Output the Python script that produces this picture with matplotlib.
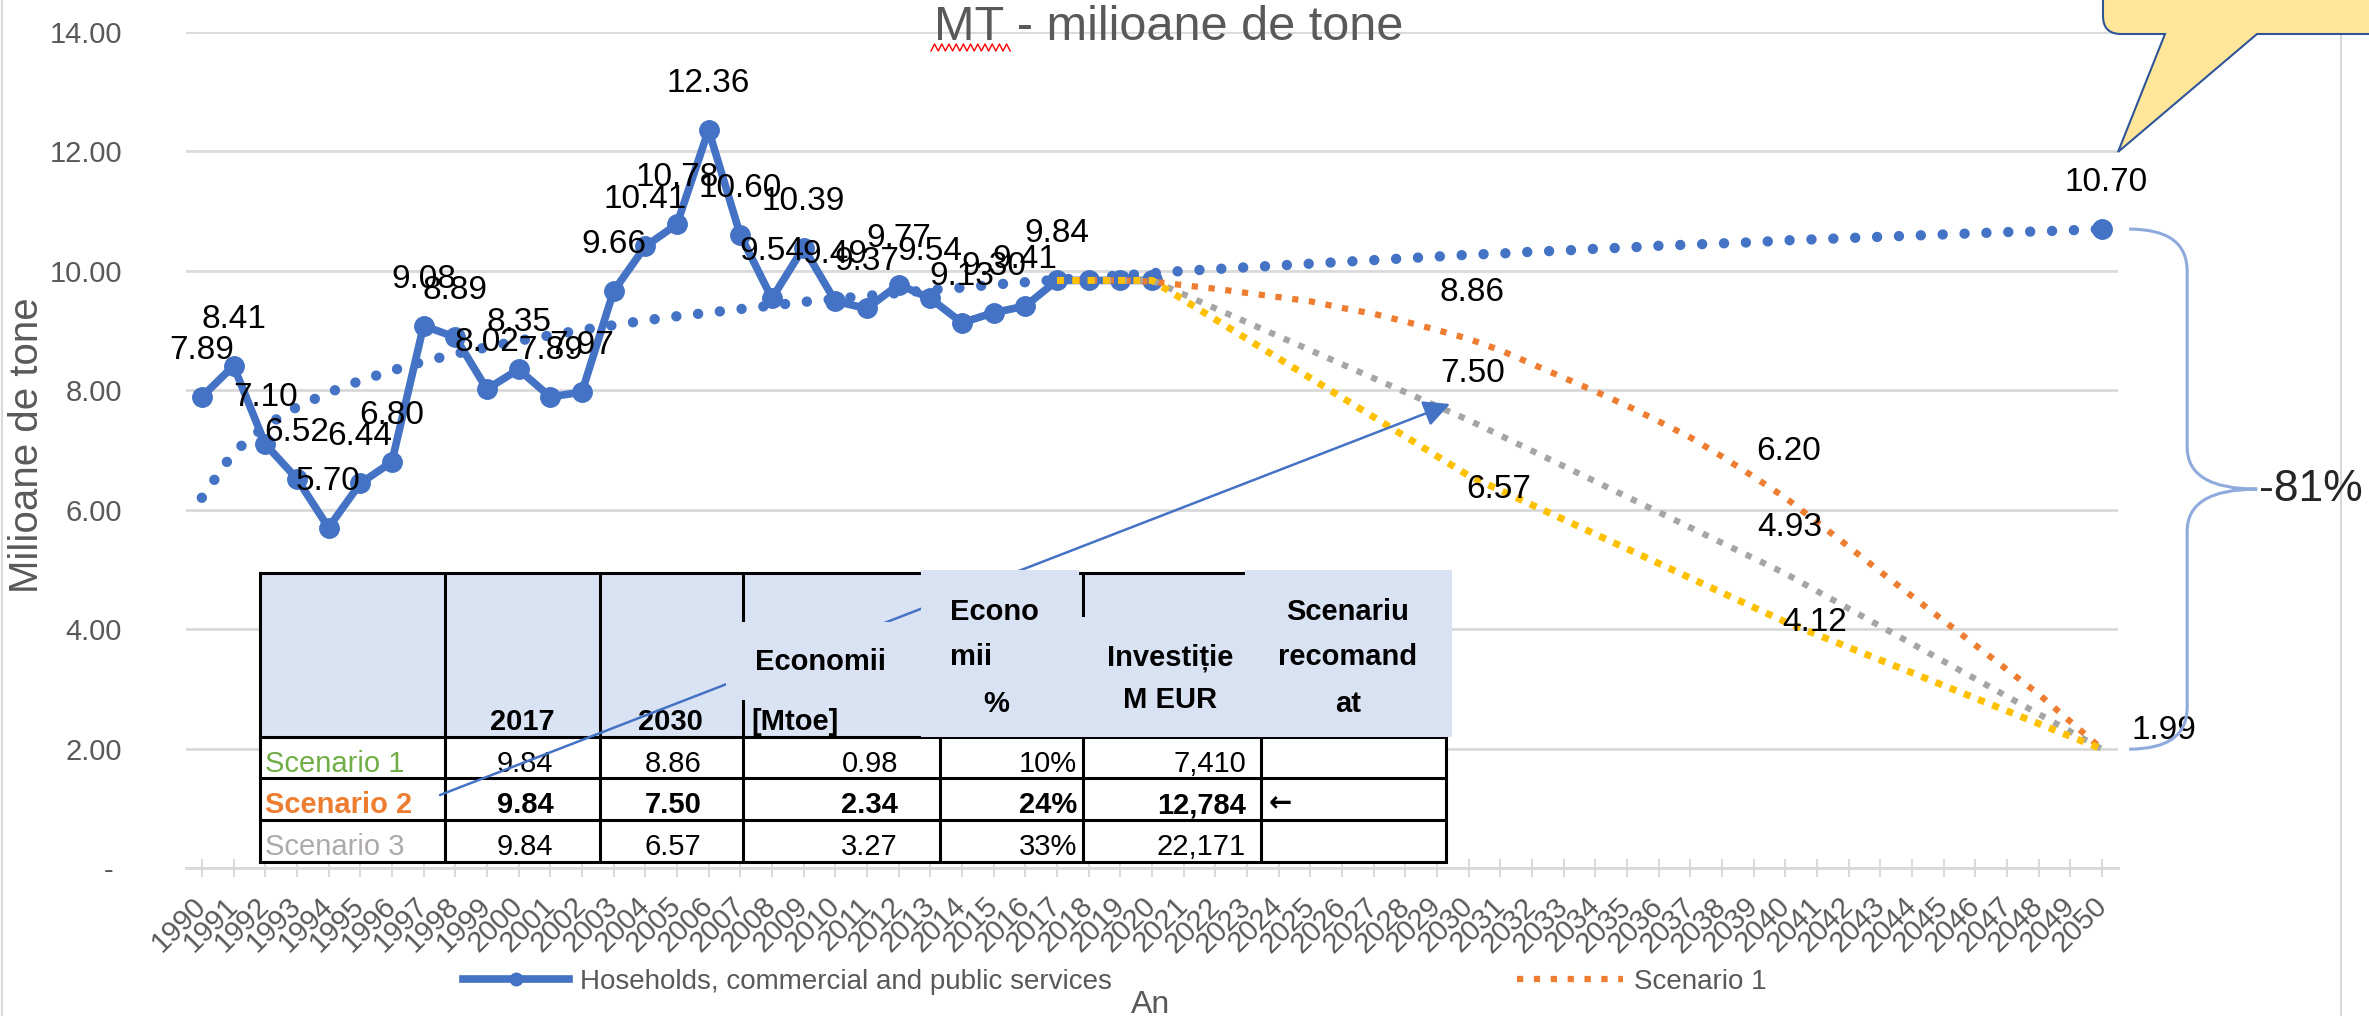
import numpy as np
import matplotlib
matplotlib.use('Agg')
import matplotlib.pyplot as plt
from matplotlib.lines import Line2D
from matplotlib.patches import Rectangle, PathPatch, FancyArrowPatch
from matplotlib.path import Path
from matplotlib.transforms import IdentityTransform

plt.rcParams['font.family'] = ['Liberation Sans', 'DejaVu Sans']

W, H = 2369, 1016

# --- date ---
years_hist = list(range(1990, 2021))
hist = [7.89, 8.41, 7.10, 6.52, 5.70, 6.44, 6.80, 9.08, 8.89, 8.02,
        8.35, 7.89, 7.97, 9.66, 10.41, 10.78, 12.36, 10.60, 9.54, 10.39,
        9.49, 9.37, 9.77, 9.54, 9.13, 9.30, 9.41, 9.84, 9.84, 9.84, 9.84]
last_labeled_year = 2017

years_trend = list(range(1990, 2051))
trend = [6.20, 6.96, 7.40, 7.72, 7.96, 8.16, 8.33, 8.48, 8.61, 8.72,
         8.83, 8.92, 9.01, 9.09, 9.17, 9.24, 9.30, 9.36, 9.42, 9.48,
         9.53, 9.58, 9.63, 9.68, 9.72, 9.77, 9.81, 9.85, 9.89, 9.92,
         9.96, 10.00, 10.03, 10.06, 10.09, 10.12, 10.15, 10.18, 10.21, 10.24,
         10.27, 10.29, 10.32, 10.34, 10.37, 10.39, 10.42, 10.44, 10.46, 10.48,
         10.51, 10.53, 10.55, 10.57, 10.59, 10.61, 10.63, 10.65, 10.66, 10.68,
         10.70]

years_s1 = list(range(2017, 2051))
scen1 = [9.84, 9.84, 9.84, 9.82, 9.76, 9.70, 9.63, 9.56, 9.49, 9.38,
         9.28, 9.15, 9.01, 8.86, 8.67, 8.44, 8.21, 7.98, 7.74, 7.48,
         7.21, 6.89, 6.55, 6.20, 5.79, 5.38, 4.96, 4.55, 4.14, 3.73,
         3.32, 2.91, 2.45, 1.99]

years_key = [2017, 2020, 2030, 2040, 2050]
scen2 = [9.84, 9.84, 7.50, 4.93, 1.99]
scen3 = [9.84, 9.84, 6.57, 4.12, 1.99]

# tabel
row_names = ['Scenario 1', 'Scenario 2', 'Scenario 3']
val_2017 = [9.84, 9.84, 9.84]
val_2030 = [8.86, 7.50, 6.57]
savings = [0.98, 2.34, 3.27]
savings_pct = [10, 24, 33]
invest = [7410, 12784, 22171]
recommended = ['', '\u2190', '']
reduction = -81

BLUE = '#4472C4'
ORANGE = '#ED7D31'
GRAY = '#A5A5A5'
YELLOW = '#FFC000'
TXT = '#595959'
GRID = '#D9D9D9'

fig = plt.figure(figsize=(W / 100, H / 100), dpi=100)
ax = fig.add_axes([186 / W, 1 - 868 / H, (2118 - 186) / W, (868 - 32) / H])


def fx(x):
    return x / W


def fy(y):
    return 1 - y / H


# --- linii ---
ax.plot(years_trend, trend, color=BLUE, lw=7.5, linestyle=(0, (0.001, 2.1)),
        dash_capstyle='round', zorder=2)
ax.plot(years_trend[-1], trend[-1], 'o', color=BLUE, ms=14, zorder=3)
ax.plot(years_hist, hist, color=BLUE, lw=5.5, marker='o', ms=14, zorder=3)
ax.plot(years_s1, scen1, color=ORANGE, lw=4.5, linestyle=(0, (1, 1.7)), zorder=4)
ax.plot(years_key, scen2, color=GRAY, lw=4.5, linestyle=(0, (1, 1.55)), zorder=4)
ax.plot(years_key, scen3, color=YELLOW, lw=5, linestyle=(0, (1, 1.2)), zorder=4)

lab = dict(textcoords='offset pixels', ha='center', va='baseline',
           fontsize=24, color='black', zorder=6)
for y, v in zip(years_hist, hist):
    if y <= last_labeled_year:
        ax.annotate(f'{v:.2f}', (y, v), xytext=(0, 38), **lab)
ax.annotate(f'{trend[-1]:.2f}', (years_trend[-1], trend[-1]), xytext=(4, 38), **lab)
for y, v in zip(years_s1, scen1):
    if y in (2030, 2040):
        ax.annotate(f'{v:.2f}', (y, v), xytext=(3, 38), **lab)
for y, v in zip(years_key, scen2):
    if y in (2030, 2040):
        ax.annotate(f'{v:.2f}', (y, v), xytext=(4, 38), **lab)
s3_off = {2030: (30, -22), 2040: (29, -9), 2050: (62, 10)}
for y, v in zip(years_key, scen3):
    if y in s3_off:
        ax.annotate(f'{v:.2f}', (y, v), xytext=s3_off[y], **lab)

# --- axe ---
ax.set_xlim(1989.5, 2050.5)
ax.set_ylim(0, 14)
ax.set_yticks(np.arange(0, 15, 2))
ax.set_yticklabels(['- '] + [f'{t:.2f}' for t in np.arange(2, 15, 2)])
ax.set_xticks(years_trend)
ax.set_xticklabels([str(y) for y in years_trend])
ax.tick_params(axis='y', length=0, pad=46, labelsize=21, labelcolor=TXT)
ax.tick_params(axis='x', direction='inout', length=13, width=1.4, color=GRID,
               pad=18, labelsize=21, labelcolor=TXT)
plt.setp(ax.get_xticklabels(), rotation=45, ha='right', va='center',
         rotation_mode='anchor')
ax.grid(axis='y', color=GRID, lw=2)
ax.set_axisbelow(True)
for s in ('left', 'right', 'top'):
    ax.spines[s].set_visible(False)
ax.spines['bottom'].set_color(GRID)
ax.spines['bottom'].set_linewidth(2)
ax.patch.set_alpha(0)

fig.text(fx(1169), fy(40), 'MT - milioane de tone', ha='center', va='baseline',
         fontsize=35, color=TXT)
sq_x = np.arange(931, 1012, 3.6)
sq_y = [44 if i % 2 else 51 for i in range(len(sq_x))]
fig.add_artist(Line2D(fx(sq_x), [fy(v) for v in sq_y], color='#FF0000', lw=1,
                      transform=fig.transFigure))
fig.text(fx(27), fy(445), 'Milioane de tone', rotation=90, ha='center',
         va='center', fontsize=29, color=TXT)
fig.text(fx(1151), fy(990), 'An', ha='center', va='top', fontsize=23, color=TXT)

# legenda
handles = [Line2D([], [], color=BLUE, lw=5.5, marker='o', ms=9),
           Line2D([], [], color=ORANGE, lw=4.5, linestyle=(0, (1, 1.7)))]
fig.legend(handles, ['Hoseholds, commercial and public services', 'Scenario 1'],
           loc='center left', bbox_to_anchor=(fx(463), fy(982)), ncol=2,
           frameon=False, fontsize=20, labelcolor=TXT, handlelength=3.8,
           handletextpad=0.4, columnspacing=14.6, borderpad=0, borderaxespad=0)

# chenar grafic
for xb in (2, 2341):
    fig.add_artist(Line2D([fx(xb)] * 2, [0, 1], color=GRID, lw=1.5,
                          transform=fig.transFigure, zorder=1))

# --- acolada -81% ---
p_top = ax.transData.transform((years_trend[-1], trend[-1]))
p_bot = ax.transData.transform((years_key[-1], scen3[-1]))
x0, x1, xt = p_top[0] + 27, p_top[0] + 85, p_top[0] + 155
yt, yb = p_top[1], p_bot[1]
ym = (yt + yb) / 2
r = 42
verts = [(x0, yt), (x1, yt), (x1, yt - r), (x1, ym + r), (x1, ym), (xt, ym),
         (x1, ym), (x1, ym - r), (x1, yb + r), (x1, yb), (x0, yb)]
codes = [Path.MOVETO, Path.CURVE3, Path.CURVE3, Path.LINETO, Path.CURVE3,
         Path.CURVE3, Path.CURVE3, Path.CURVE3, Path.LINETO, Path.CURVE3,
         Path.CURVE3]
fig.add_artist(PathPatch(Path(verts, codes), fill=False, edgecolor='#8FAADC',
                         lw=2.2, transform=IdentityTransform(), zorder=2))
fig.text(fx(xt + 2), ym / H, f'{reduction}%', ha='left', va='center',
         fontsize=32, color='#262626')

# --- balon ---
bub = [(2103, -30), (2103, 16), (2103, 34), (2121, 34), (2165, 34),
       (2118, 152), (2257, 34), (2400, 34), (2400, -30), (2103, -30)]
bcodes = [Path.MOVETO, Path.LINETO, Path.CURVE3, Path.CURVE3, Path.LINETO,
          Path.LINETO, Path.LINETO, Path.LINETO, Path.LINETO, Path.CLOSEPOLY]
fig.add_artist(PathPatch(Path([(fx(a), fy(b)) for a, b in bub], bcodes),
                         facecolor='#FFE699', edgecolor='#2F5597', lw=1.5,
                         transform=fig.transFigure, zorder=8))

# --- tabel ---
col_x = [260, 445, 600, 743, 940, 1083, 1261, 1446]
row_y = [573, 737, 778, 820, 862]
HDR = '#DAE3F3'


def rect(x0, y0, x1, y1, color, z):
    fig.add_artist(Rectangle((fx(x0), fy(y1)), (x1 - x0) / W, (y1 - y0) / H,
                             facecolor=color, edgecolor='none',
                             transform=fig.transFigure, zorder=z))


def seg(xs, ys, z=3):
    fig.add_artist(Line2D([fx(v) for v in xs], [fy(v) for v in ys],
                          color='black', lw=2.2, transform=fig.transFigure,
                          zorder=z, solid_capstyle='projecting'))


def txt(x, y, s, z=4, **kw):
    kw.setdefault('fontsize', 21)
    kw.setdefault('va', 'baseline')
    fig.text(fx(x), fy(y), s, zorder=z, **kw)


rect(col_x[0], row_y[0], col_x[-1], row_y[1], HDR, 2)
rect(col_x[0], row_y[1], col_x[-1], row_y[-1], 'white', 2)
for yy in row_y:
    seg([col_x[0], col_x[-1]], [yy, yy])
for xx in col_x:
    seg([xx, xx], [row_y[0], row_y[-1]])

txt(522, 730, '2017', ha='center', weight='bold')
txt(670, 730, '2030', ha='center', weight='bold')
txt(751, 730, '[Mtoe]', ha='left', weight='bold')

row_colors = ['#70AD47', ORANGE, '#AEAAAA']
for i in range(3):
    base = row_y[i + 1] + 35
    w = 'bold' if recommended[i] else 'normal'
    txt(265, base, row_names[i], ha='left', color=row_colors[i], weight=w)
    txt(525, base, f'{val_2017[i]:.2f}', ha='center', weight=w)
    txt(673, base, f'{val_2030[i]:.2f}', ha='center', weight=w)
    txt(col_x[4] - 42, base, f'{savings[i]:.2f}', ha='right', weight=w)
    txt(col_x[5] - 6, base, f'{savings_pct[i]}%', ha='right', weight=w)
    txt(col_x[6] - 15, base, f'{invest[i]:,}', ha='right', weight=w)
    txt(col_x[6] + 8, base - 2, recommended[i], ha='left', weight='bold',
        family='DejaVu Sans', fontsize=20)

# sageata spre scenariul 2
fig.add_artist(FancyArrowPatch((fx(440), fy(795)), (fx(1450), fy(404)),
                               transform=fig.transFigure, color=BLUE, lw=1.8,
                               arrowstyle='-|>,head_length=0.8,head_width=0.4',
                               mutation_scale=20, shrinkA=0, shrinkB=0,
                               zorder=4.5))

# casete text peste antet
rect(726, 622, 921, 700, '#D9E2F3', 5)
rect(921, 570, 1079, 737, '#D9E2F3', 5)
rect(1079, 617, 1245, 737, '#D9E2F3', 5)
rect(1245, 570, 1452, 737, '#D9E2F3', 5)
txt(820, 670, 'Economii', ha='center', weight='bold', z=6)
txt(950, 620, 'Econo', ha='left', weight='bold', z=6)
txt(950, 665, 'mii', ha='left', weight='bold', z=6)
txt(996, 712, '%', ha='center', weight='bold', z=6)
txt(1170, 665, 'Investiție', ha='center', weight='bold', z=6)
txt(1170, 708, 'M EUR', ha='center', weight='bold', z=6)
txt(1348, 620, 'Scenariu', ha='center', weight='bold', z=6)
txt(1348, 665, 'recomand', ha='center', weight='bold', z=6)
txt(1348, 712, 'at', ha='center', weight='bold', z=6)

fig.savefig('out.png', dpi=100)
